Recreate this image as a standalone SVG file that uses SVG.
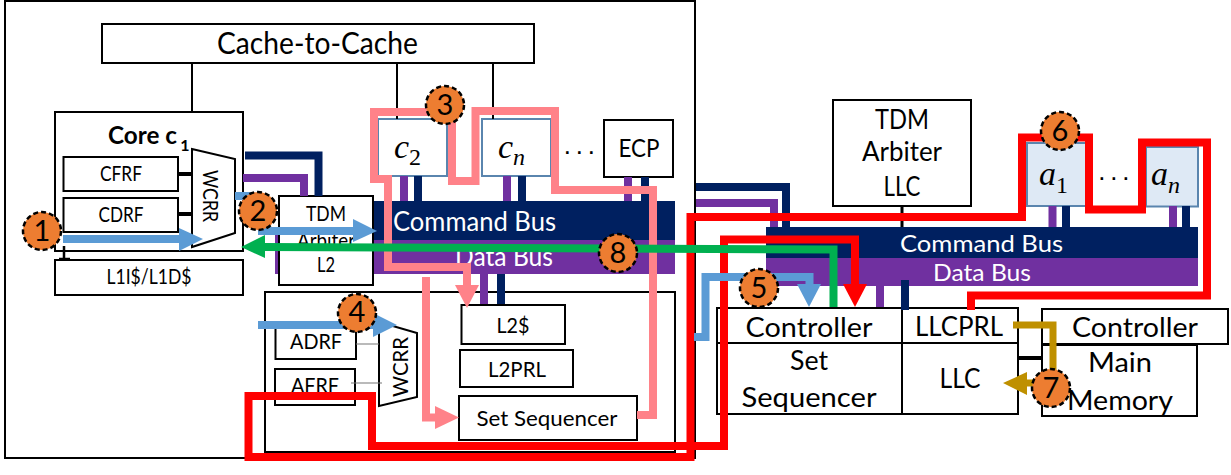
<svg xmlns="http://www.w3.org/2000/svg" width="1231" height="475" viewBox="0 0 1231 475">
<style>
text{font-family:Lato,"Noto Sans",sans-serif;fill:#000;text-anchor:middle}
.b{fill:#fff;stroke:#000;stroke-width:2}
.t{fill:none;stroke:#000;stroke-width:2}
.s18{font-size:20.500px}.s20{font-size:22px}.s24{font-size:27px}.s27{font-size:30px}
.w{fill:#fff}
.m{font-family:"Liberation Serif",serif;font-size:34px;text-anchor:start}
.m .i{font-style:italic}
.dots{font-family:"Liberation Sans",sans-serif;font-size:26px;letter-spacing:3.300px}
.agent{fill:#fff;stroke:#5A85AE;stroke-width:2}
.agent2{fill:#DEE9F5;stroke:#5A85AE;stroke-width:2}
.navy{fill:none;stroke:#002060;stroke-width:8}
.purple{fill:none;stroke:#7030A0;stroke-width:8}
.pink{fill:none;stroke:#FF8289;stroke-width:8}
.red{fill:none;stroke:#F00;stroke-width:8}
.blue{fill:none;stroke:#5B9BD5;stroke-width:8}
.green{fill:none;stroke:#00B050;stroke-width:8}
.gold{fill:none;stroke:#BF9000;stroke-width:7}
.thin{stroke:#000;stroke-width:3;fill:none}
.gray{stroke:#777;stroke-width:1.2;fill:none}
.n circle{fill:#ED7D31;stroke:#000;stroke-width:2.5;stroke-dasharray:5 3}
.n text{font-size:29px}
</style>

<g id="outer"><rect x="5" y="1" width="690" height="457" class="b"/></g>
<g id="cache-to-cache"><rect x="102" y="24" width="432" height="39" class="b"/><text x="317.500" y="54" class="s27" textLength="201" lengthAdjust="spacingAndGlyphs">Cache-to-Cache</text></g>

<g id="core-c1">
<rect x="55" y="112" width="188" height="139" class="b"/>
<text x="108" y="144" style="font-size:24px;font-weight:700;text-anchor:start" textLength="69" lengthAdjust="spacingAndGlyphs">Core c</text>
<text x="185" y="151" style="font-size:16px;font-weight:700">1</text>
</g>
<g id="cfrf"><rect x="63.500" y="157" width="114.500" height="34" class="b"/><text x="121" y="181" class="s18" textLength="42" lengthAdjust="spacingAndGlyphs">CFRF</text></g>
<g id="cdrf"><rect x="63.500" y="198" width="114.500" height="34" class="b"/><text x="121" y="222" class="s18" textLength="45" lengthAdjust="spacingAndGlyphs">CDRF</text></g>
<g id="wcrr-1"><polygon points="192,149 235,159 235,233 192,247" class="b"/><text transform="translate(203 196) rotate(90)" class="s20" textLength="52" lengthAdjust="spacingAndGlyphs">WCRR</text></g>
<g id="l1"><rect x="55" y="260" width="188" height="35" class="b"/><text x="149" y="284" class="s18" textLength="85" lengthAdjust="spacingAndGlyphs">L1I$/L1D$</text></g>

<g id="bus-left">
<rect x="275" y="233" width="400" height="41" fill="#7030A0"/>
<rect x="373" y="201" width="302" height="39" fill="#002060"/>
<text x="474.500" y="231" class="s24 w" textLength="163" lengthAdjust="spacingAndGlyphs">Command Bus</text>
<text x="504" y="266" class="s24 w" textLength="98" lengthAdjust="spacingAndGlyphs">Data Bus</text>
</g>
<g id="tdm-arbiter-l2"><rect x="279" y="196" width="94" height="89" class="b"/>
<text x="326" y="221" class="s18" textLength="40" lengthAdjust="spacingAndGlyphs">TDM</text>
<text x="326" y="248" class="s18" textLength="58" lengthAdjust="spacingAndGlyphs">Arbiter</text>
<text x="326" y="272" class="s18" textLength="18" lengthAdjust="spacingAndGlyphs">L2</text></g>

<g id="c2"><rect x="378" y="119" width="69" height="57" class="agent"/><text x="394" y="158" class="m"><tspan class="i">c</tspan><tspan dy="7" font-size="24">2</tspan></text></g>
<g id="cn"><rect x="482" y="119" width="69" height="57" class="agent"/><text x="498" y="158" class="m"><tspan class="i">c</tspan><tspan class="i" dy="7" font-size="24">n</tspan></text></g>
<g id="dots-1"><text x="581" y="160" class="dots">···</text></g>
<g id="ecp"><rect x="604" y="120" width="69" height="57" class="b"/><text x="639" y="157" style="font-size:25px" textLength="41" lengthAdjust="spacingAndGlyphs">ECP</text></g>

<g id="l2-group"><rect x="265" y="292" width="410" height="160" class="t"/></g>
<g id="l2-cache"><rect x="461.500" y="305" width="103.500" height="39" class="b"/><text x="513" y="333" class="s18" textLength="33" lengthAdjust="spacingAndGlyphs">L2$</text></g>
<g id="l2prl"><rect x="460" y="350" width="113" height="37" class="b"/><text x="517" y="377" class="s18" textLength="58" lengthAdjust="spacingAndGlyphs">L2PRL</text></g>
<g id="set-sequencer"><rect x="459" y="396" width="178" height="44" class="b"/><text x="547" y="426" class="s20" textLength="141" lengthAdjust="spacingAndGlyphs">Set Sequencer</text></g>
<g id="adrf"><rect x="275.500" y="325" width="80.500" height="34" class="b"/><text x="316" y="349" class="s18" textLength="52" lengthAdjust="spacingAndGlyphs">ADRF</text></g>
<g id="afrf"><rect x="275" y="369" width="80" height="36" class="b"/><text x="315" y="393" class="s18" textLength="48" lengthAdjust="spacingAndGlyphs">AFRF</text></g>
<g id="wcrr-2"><polygon points="379,322 417,333 417,397 379,406" class="b"/><text transform="translate(408 367) rotate(-90)" class="s20" textLength="60" lengthAdjust="spacingAndGlyphs">WCRR</text></g>

<g id="tdm-llc"><rect x="833" y="100" width="138" height="106" class="b"/>
<text x="902" y="129" class="s24" textLength="54" lengthAdjust="spacingAndGlyphs">TDM</text>
<text x="902" y="161" class="s24" textLength="80" lengthAdjust="spacingAndGlyphs">Arbiter</text>
<text x="902" y="196" class="s24" textLength="37" lengthAdjust="spacingAndGlyphs">LLC</text></g>
<g id="a1"><rect x="1027" y="143" width="59" height="63" class="agent2"/><text x="1039" y="185" class="m"><tspan class="i">a</tspan><tspan dy="8" font-size="24">1</tspan></text></g>
<g id="dots-2"><text x="1115.500" y="186" class="dots">···</text></g>
<g id="an"><rect x="1146" y="147" width="52" height="59.500" class="agent2"/><text x="1151" y="185" class="m"><tspan class="i">a</tspan><tspan class="i" dy="8" font-size="24">n</tspan></text></g>
<g id="bus-right">
<rect x="766" y="227" width="432" height="31" fill="#002060"/>
<rect x="766" y="258" width="432" height="28" fill="#7030A0"/>
<text x="981.500" y="252" style="font-size:24px" class="w" textLength="163" lengthAdjust="spacingAndGlyphs">Command Bus</text>
<text x="982" y="281" style="font-size:24px" class="w" textLength="98" lengthAdjust="spacingAndGlyphs">Data Bus</text>
</g>
<g id="set-sequencer-llc"><rect x="717" y="308" width="185" height="35" class="b"/><rect x="717" y="343" width="185" height="71" class="b"/>
<text x="809" y="337" class="s24" textLength="127" lengthAdjust="spacingAndGlyphs">Controller</text>
<text x="809" y="370" class="s24" textLength="38" lengthAdjust="spacingAndGlyphs">Set</text>
<text x="809" y="407" class="s24" textLength="135" lengthAdjust="spacingAndGlyphs">Sequencer</text></g>
<g id="llcprl"><rect x="902" y="308" width="116" height="35" class="b"/><text x="959" y="336" class="s24" textLength="88" lengthAdjust="spacingAndGlyphs">LLCPRL</text></g>
<g id="llc"><rect x="902" y="343" width="116" height="71" class="b"/><text x="960" y="388" class="s24" textLength="41" lengthAdjust="spacingAndGlyphs">LLC</text></g>
<g id="main-memory"><rect x="1042" y="345" width="155" height="71" class="b"/><rect x="1042" y="309" width="186" height="35" class="b"/>
<text x="1135" y="337" class="s24" textLength="126" lengthAdjust="spacingAndGlyphs">Controller</text>
<text x="1120" y="372" class="s24" textLength="64" lengthAdjust="spacingAndGlyphs">Main</text>
<text x="1120" y="410" class="s24" textLength="106" lengthAdjust="spacingAndGlyphs">Memory</text></g>

<g id="connectors">
<path d="M192 63V112M397 63V119M493 63V119" class="t"/>
<path d="M178 174H192M178 214H192" stroke="#000" stroke-width="4" fill="none"/>
<path d="M64 246V260M59 259H70" stroke="#000" stroke-width="2.500" fill="none"/>
<path d="M356 344H379M351 383H382" class="gray"/>
<path d="M902 206V227" class="thin"/>
<path d="M1018 358H1042" stroke="#000" stroke-width="4" fill="none"/>

<path d="M245 155.500H318.500V196" class="navy"/>
<path d="M243 178H304V196" class="purple"/>
<path d="M404 176V201M507 176V201M628 177V201M484 274V304" class="purple"/>
<path d="M418 176V201M522 176V201M645 177V201M501 274V304" class="navy"/>
<path d="M696 187H786V227" class="navy"/>
<path d="M696 203H774V227" class="purple"/>
<path d="M1052.500 206V227M1173 206V227M880 286V307" class="purple"/>
<path d="M1066 206V227M1186 206V227M905 280V310" class="navy"/>

<path d="M440 112H374V179H388V267H467V286" class="pink"/>
<polygon points="455,285 479,285 467,308" fill="#FF8289"/>
<path d="M448 112H452V181H475.500V111H555V190H653V415H637" class="pink"/>
<path d="M426 277V417.500H436" class="pink"/>
<polygon points="435,406 435,429 459,417.500" fill="#FF8289"/>

<path d="M855 285V239.500H724V446H372V396H248.500V457H690.500V217H1022V137.500H1089V209.500H1142V142.500H1207V295.500H971V310" class="red"/>
<polygon points="843,284 867,284 855,307" fill="#F00"/>

<path d="M63 239H180" class="blue"/><polygon points="179,228 179,251 203,239" fill="#5B9BD5"/>
<path d="M235 196H252" class="blue"/>
<path d="M258 231H354" class="blue"/><polygon points="353,219 353,242 377,231" fill="#5B9BD5"/>
<path d="M258 325H374" class="blue"/><polygon points="373,313 373,337 397,325" fill="#5B9BD5"/>
<path d="M694 337H705.500V277H809.500V285" class="blue"/><polygon points="797,284 821,284 809,307" fill="#5B9BD5"/>

<path d="M264 247L833.500 249.500V307" class="green"/><polygon points="265,235 265,258 241,247" fill="#00B050"/>

<path d="M1013 325H1053V372" class="gold"/>
<path d="M1026 383H1038" class="gold"/><polygon points="1027,372 1027,395 1003,383" fill="#BF9000"/>
</g>

<g id="step-1" class="n"><circle cx="42" cy="231" r="19"/><text x="42" y="241">1</text></g>
<g id="step-2" class="n"><circle cx="258" cy="211" r="19"/><text x="258" y="221">2</text></g>
<g id="step-3" class="n"><circle cx="445" cy="105" r="19"/><text x="445" y="115">3</text></g>
<g id="step-4" class="n"><circle cx="357" cy="313" r="19"/><text x="357" y="322">4</text></g>
<g id="step-5" class="n"><circle cx="759" cy="288" r="19"/><text x="759" y="298">5</text></g>
<g id="step-6" class="n"><circle cx="1060" cy="131" r="19"/><text x="1060" y="141">6</text></g>
<g id="step-7" class="n"><circle cx="1051" cy="388" r="19"/><text x="1051" y="398">7</text></g>
<g id="step-8" class="n"><circle cx="618" cy="253" r="19"/><text x="618" y="263">8</text></g>
</svg>
